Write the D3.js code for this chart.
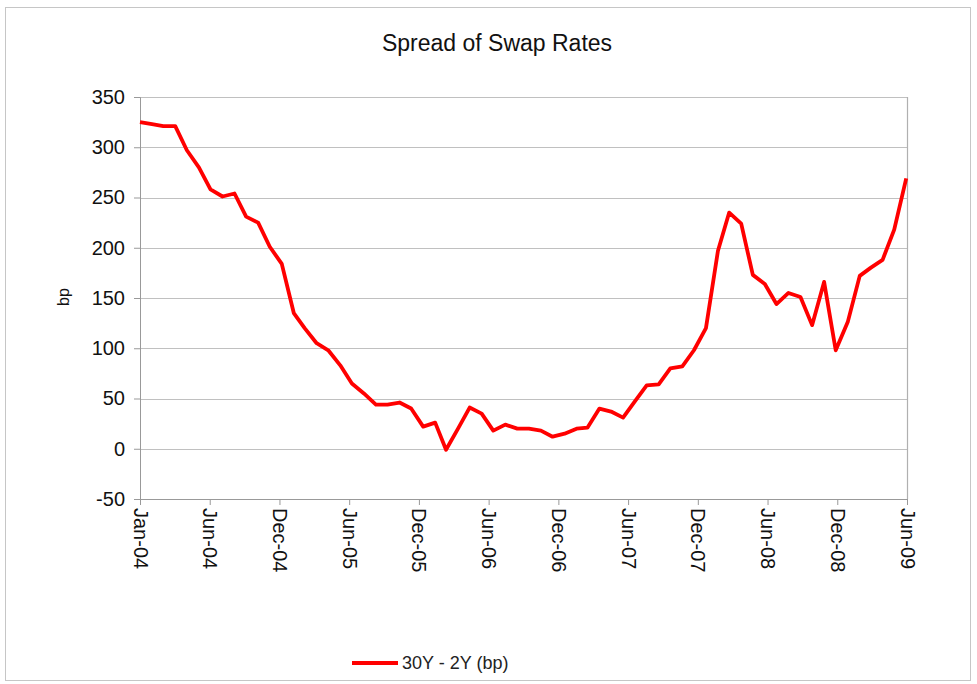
<!DOCTYPE html>
<html>
<head>
<meta charset="utf-8">
<script src="https://cdn.jsdelivr.net/npm/d3@7"></script>
<style>
  body { margin: 0; background: #fff; }
  svg { display: block; font-family: "Liberation Sans", Arial, sans-serif; }
</style>
</head>
<body>
<svg id="chart" width="977" height="684"></svg>
<script>
// monthly spread, Jan-04 .. Jun-09 (bp)
const spread = [
  325, 323, 321, 321, 297, 280, 258, 251, 254, 231, 225, 201,
  184, 135, 120, 105, 98, 83, 65, 55, 44, 44, 46, 40,
  22, 26, -1, 20, 41, 35, 18, 24, 20, 20, 18, 12,
  15, 20, 21, 40, 37, 31, 47, 63, 64, 80, 82, 98,
  120, 197, 235, 224, 173, 164, 144, 155, 151, 123, 166, 98,
  126, 172, 180, 188, 218, 269
];
const tickLabels = ["Jan-04", "Jun-04", "Dec-04", "Jun-05", "Dec-05", "Jun-06",
                    "Dec-06", "Jun-07", "Dec-07", "Jun-08", "Dec-08", "Jun-09"];
const yTicks = [-50, 0, 50, 100, 150, 200, 250, 300, 350];
const seriesName = "30Y - 2Y (bp)";
const title = "Spread of Swap Rates";

const start = new Date(Date.UTC(2004, 0, 1));
const dates = spread.map((d, i) => d3.utcMonth.offset(start, i));
// date axis, major unit 180 days
const tickDates = tickLabels.map((d, i) => d3.utcDay.offset(start, i * 180));

const margin = {top: 97, right: 70, bottom: 185, left: 140};
const width = 977 - margin.left - margin.right;
const height = 684 - margin.top - margin.bottom;

const svg = d3.select('#chart');

// outer frame
svg.append('rect')
  .attr('x', 5.5).attr('y', 7.5)
  .attr('width', 965).attr('height', 673)
  .attr('fill', 'none')
  .attr('stroke', '#c6c6c6');

svg.append('text')
  .attr('x', 497).attr('y', 51)
  .attr('text-anchor', 'middle')
  .style('font-size', '23px')
  .style('fill', '#111')
  .text(title);

const g = svg.append('g')
  .attr('transform', `translate(${margin.left},${margin.top})`);

const x = d3.scaleUtc()
  .domain([start, tickDates[tickDates.length - 1]])
  .range([0, width]);

const y = d3.scaleLinear()
  .domain([-50, 350])
  .range([height, 0]);

// gridlines
g.selectAll('.grid')
  .data(yTicks.slice(1))
  .enter().append('line')
  .attr('class', 'grid')
  .attr('x1', 0).attr('x2', width)
  .attr('y1', d => Math.round(y(d)) + 0.5)
  .attr('y2', d => Math.round(y(d)) + 0.5)
  .attr('stroke', '#c0c0c0')
  .attr('stroke-width', 1.2);

// right border of plot area
g.append('line')
  .attr('x1', width + 0.5).attr('x2', width + 0.5)
  .attr('y1', 0).attr('y2', height)
  .attr('stroke', '#b0b0b0')
  .attr('stroke-width', 1.2);

// y axis
const yAxis = g.append('g')
  .call(d3.axisLeft(y).tickValues(yTicks).tickSize(6).tickPadding(9)
    .tickFormat(d => String(d)));
yAxis.select('.domain').attr('stroke', '#999');
yAxis.selectAll('.tick line').attr('stroke', '#999');
yAxis.selectAll('text')
  .style('font-size', '20px')
  .style('fill', '#111');

// x axis
const xAxis = g.append('g')
  .attr('transform', `translate(0,${height})`)
  .call(d3.axisBottom(x).tickValues(tickDates).tickSize(6)
    .tickFormat((d, i) => tickLabels[i]));
xAxis.select('.domain').attr('stroke', '#999');
xAxis.selectAll('.tick line').attr('stroke', '#999');
xAxis.selectAll('text')
  .style('font-size', '20px')
  .style('fill', '#111')
  .style('text-anchor', 'start')
  .attr('x', 9).attr('y', 0).attr('dy', '0.35em')
  .attr('transform', 'rotate(90)');

// y label
svg.append('text')
  .attr('transform', 'translate(69,297) rotate(-90)')
  .attr('text-anchor', 'middle')
  .style('font-size', '16px')
  .style('fill', '#111')
  .text('bp');

// series line
const line = d3.line()
  .x((d, i) => x(dates[i]))
  .y(d => y(d));

g.append('path')
  .datum(spread)
  .attr('fill', 'none')
  .attr('stroke', '#ff0000')
  .attr('stroke-width', 3.8)
  .attr('stroke-linejoin', 'round')
  .attr('d', line);

// legend
const legend = svg.append('g').attr('transform', 'translate(352,663)');
legend.append('line')
  .attr('x1', 0).attr('x2', 46)
  .attr('stroke', '#ff0000')
  .attr('stroke-width', 4);
legend.append('text')
  .attr('x', 50).attr('dy', '0.35em')
  .style('font-size', '18px')
  .style('fill', '#222')
  .text(seriesName);
</script>
</body>
</html>
